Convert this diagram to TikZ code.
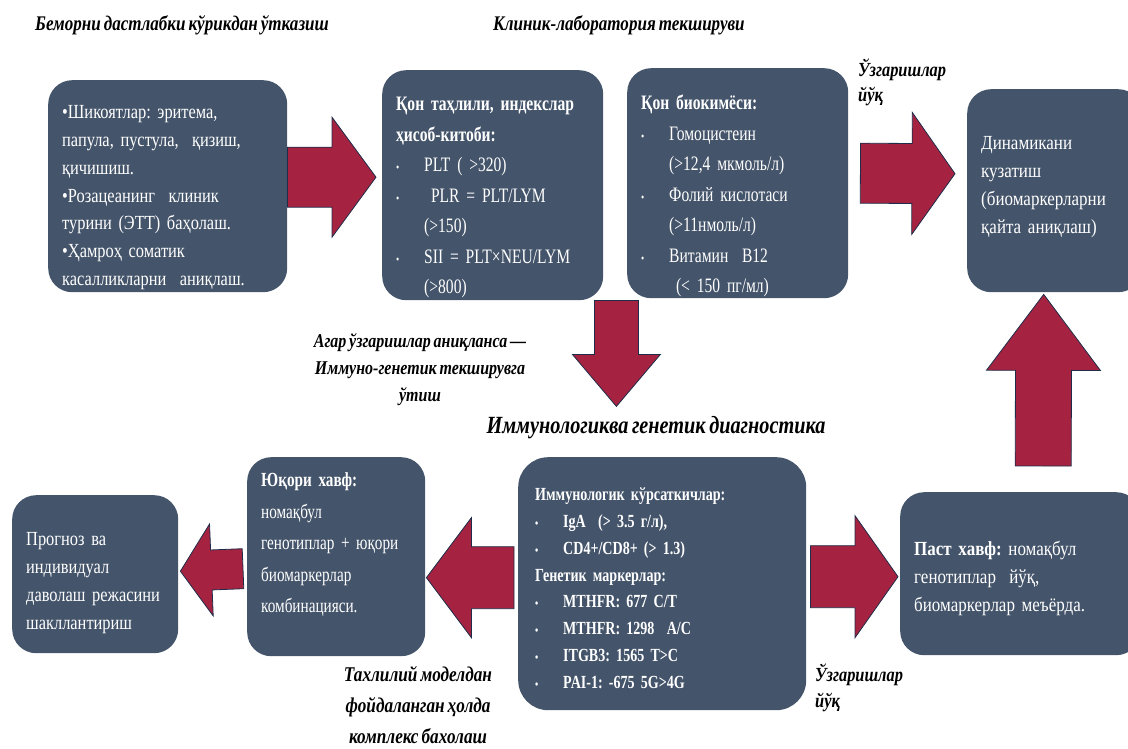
\documentclass[tikz,border=0pt]{standalone}
\usepackage{fontspec}
\setmainfont{Liberation Serif}[FakeStretch=0.82, WordSpace=0.7]
\newfontfamily\widefont{Liberation Serif}[FakeStretch=0.85, WordSpace=0.7]
\newfontfamily\narrowfont{Liberation Serif}[FakeStretch=0.76, WordSpace=0.7]
\usetikzlibrary{calc}

\definecolor{boxblue}{HTML}{44546A}
\definecolor{arrowred}{HTML}{A52341}
\definecolor{arrowline}{HTML}{1F2D4A}

\tikzset{
  box/.style={fill=boxblue, rounded corners=24pt, text=white, anchor=north west, align=left, inner xsep=14pt, inner ysep=0pt},
  lbl/.style={inner sep=0pt, font=\fontsize{20.8}{26}\selectfont\bfseries\itshape},
  bigarrow/.style={fill=arrowred, draw=arrowline, line width=0.8pt}
}

\newcommand\bul{\makebox[28pt][l]{\fontsize{12}{12}\selectfont\textbullet}}
\newcommand\ind{\hspace*{28pt}}
\newcommand\uptext[1]{\rule{0pt}{#1}}
\newcommand\blockarrow[5]{%
  \filldraw[bigarrow] (#1) coordinate (ba) (#2) coordinate (bb) ($(bb)!#5!(ba)$) coordinate (bc)
    ($(ba)!#3!90:(bb)$) -- ($(bc)!#3!90:(bb)$) -- ($(bc)!#4!90:(bb)$) -- (bb)
    -- ($(bc)!#4!-90:(bb)$) -- ($(bc)!#3!-90:(bb)$) -- ($(ba)!#3!-90:(bb)$) -- cycle;}

\begin{document}
\frenchspacing
\begin{tikzpicture}[x=1pt,y=-1pt]
\useasboundingbox (0,0) rectangle (1128,749);

\node[box, minimum width=239, text width=211, minimum height=212, font=\fontsize{20}{27.7}\selectfont] (b1) at (48,80)
  {\uptext{36pt}\textbullet Шикоятлар: эритема,\\ папула, пустула,\ \ қизиш,\\ қичишиш.\\ \textbullet Розацеанинг\ \ клиник\\ турини (ЭТТ) баҳолаш.\\ \textbullet Ҳамроҳ соматик\\ касалликларни\ \ аниқлаш.};
\node[box, minimum width=221, text width=193, minimum height=230, font=\fontsize{20.5}{30.5}\narrowfont] (b2) at (382,70)
  {\uptext{38pt}\textbf{Қон таҳлили,\ индекслар}\\ \textbf{ҳисоб-китоби:}\\ \bul PLT ( >320)\\ \bul\ PLR = PLT/LYM\\ \ind(>150)\\ \bul SII = PLT×NEU/LYM\\ \ind(>800)};
\node[box, minimum width=221, text width=193, minimum height=230, font=\fontsize{20.5}{30.5}\narrowfont] (b3) at (627,68)
  {\uptext{40pt}\textbf{Қон биокимёси:}\\ \bul Гомоцистеин\\ \ind(>12,4 мкмоль/л)\\ \bul Фолий кислотаси\\ \ind(>11нмоль/л)\\ \bul Витамин\ \ B12\\ \ind\ (< 150 пг/мл)};
\node[box, minimum width=175, text width=147, minimum height=203, font=\fontsize{20}{28}\widefont] (b4) at (967,89)
  {Динамикани\\ кузатиш\\ (биомаркерларни\\ қайта аниқлаш)\rule[-12pt]{0pt}{0pt}};
\node[box, minimum width=282, text width=254, minimum height=253, rounded corners=30pt, inner xsep=17pt, font=\fontsize{18.5}{26.8}\narrowfont\bfseries] (b5) at (518,457)
  {\uptext{22pt}Иммунологик кўрсаткичлар:\\ \bul IgA\ \ (> 3.5 г/л),\\ \bul CD4+/CD8+ (> 1.3)\\ Генетик маркерлар:\\ \bul MTHFR: 677 C/T\\ \bul MTHFR: 1298\ \ A/C\\ \bul ITGB3: 1565 T>C\\ \bul PAI-1: -675 5G>4G};
\node[box, minimum width=178, text width=150, minimum height=199, font=\fontsize{20}{31.5}\narrowfont] (b6) at (247,457)
  {\textbf{Юқори хавф:}\\ номақбул\\ генотиплар + юқори\\ биомаркерлар\\ комбинацияси.\rule[-28pt]{0pt}{0pt}};
\node[box, minimum width=166, text width=138, minimum height=158, font=\fontsize{20}{28}\selectfont] (b7) at (12,495)
  {\uptext{30pt}Прогноз ва\\ индивидуал\\ даволаш режасини\\ шакллантириш};
\node[box, minimum width=240, text width=212, minimum height=163, font=\fontsize{20}{28}\widefont] (b8) at (900,492)
  {\uptext{24pt}\textbf{Паст хавф:} номақбул\\ генотиплар\ \ йўқ,\\ биомаркерлар меъёрда.};

\node[lbl, anchor=west] (l1) at (35,25) {Беморни дастлабки кўрикдан ўтказиш};
\node[lbl, anchor=west] (l2) at (493,25) {Клиник-лаборатория текшируви};
\node[lbl, anchor=west, align=left, font=\fontsize{20}{25}\selectfont\bfseries\itshape] (l3) at (858,82) {Ўзгаришлар\\ йўқ};
\node[lbl, align=center, font=\fontsize{19.5}{27}\selectfont\bfseries\itshape] (l4) at (420,370) {Агар ўзгаришлар аниқланса —\\ Иммуно-генетик текширувга\\ ўтиш};
\node[lbl, font=\fontsize{24.7}{30}\selectfont\bfseries\itshape] (title) at (656,428) {Иммунологиква генетик диагностика};
\node[lbl, anchor=west, align=left, font=\fontsize{20}{26}\selectfont\bfseries\itshape] (l5) at (815,688) {Ўзгаришлар\\ йўқ};
\node[lbl, align=center, font=\fontsize{21}{31}\selectfont\bfseries\itshape] (l6) at (418,705) {Тахлилий моделдан\\ фойдаланган ҳолда\\ комплекс бахолаш};

\blockarrow{$(b1.east)+(0,-9)$}{$(b2.west)+(-6,-8)$}{30pt}{60pt}{44pt}
\blockarrow{$(b3.east)+(12,-10)$}{$(b4.west)+(-12,-17)$}{30pt}{61pt}{43pt}
\blockarrow{$(b2.south east)+(13,0)$}{$(b2.south east)+(13,106)$}{22pt}{44pt}{52pt}
\blockarrow{$(b5.west)+(-4,-6)$}{$(b6.east)+(1,21)$}{31pt}{60pt}{45pt}
\blockarrow{$(b6.west)+(-4,12)$}{$(b7.east)+(2,-3)$}{20pt}{46pt}{31pt}
\blockarrow{$(b5.east)+(4,-7)$}{$(b8.west)+(-2,3)$}{31pt}{61pt}{43pt}
\blockarrow{$(b8.north)+(23,-26)$}{$(b4.south)+(-11,2)$}{28pt}{57pt}{76pt}
\end{tikzpicture}
\end{document}
